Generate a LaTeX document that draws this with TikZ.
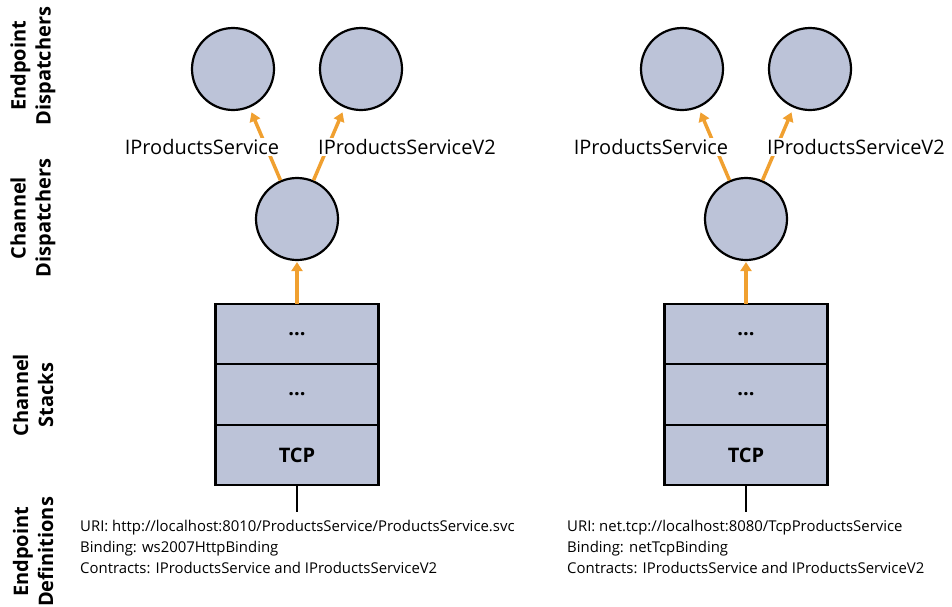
\documentclass[tikz,border=0pt]{standalone}
\usepackage{fontspec}
\setmainfont{Open Sans}
\usepackage{tikz}
\usetikzlibrary{arrows.meta, positioning}
\definecolor{dispblue}{HTML}{BCC3D8}
\definecolor{wcforange}{HTML}{F0A030}

\begin{document}
\begin{tikzpicture}[x=1pt, y=-1pt,
    disp/.style={circle, draw, line width=2.2pt, fill=dispblue, minimum size=82pt, inner sep=0pt},
    layer/.style={draw, line width=2.2pt, fill=dispblue, minimum width=163pt, minimum height=60.5pt,
                  inner sep=0pt, outer sep=0pt, font=\fontsize{20}{24}\selectfont\bfseries},
    flow/.style={-{Triangle[length=9pt, width=11pt]}, line width=3.5pt, wcforange},
    contract/.style={fill=white, inner sep=1pt, font=\fontsize{20}{24}\selectfont},
    tier/.style={rotate=90, align=center, font=\fontsize{20}{25}\selectfont\bfseries},
    epdef/.style={anchor=north west, align=left, inner sep=0pt, font=\fontsize{14.9}{21}\selectfont},
]
    \useasboundingbox (0,0) rectangle (952,606);

    % tiers
    \node[tier] (tEpDisp) at (33,66) {Endpoint\\Dispatchers};
    \node[tier] (tChDisp) at (33,218) {Channel\\Dispatchers};
    \node[tier] (tStacks) at (33,395) {Channel\\Stacks};
    \node[tier] (tEpDef) at (33,552) {Endpoint\\Definitions};

    % http endpoint
    \node[disp] (epL1) at (233,69) {};
    \node[disp] (epL2) at (361,69) {};
    \node[disp] (cdL) at (297,219) {};
    \node[layer] (stkL1) at (297,334) {...};
    \node[layer, below=0pt of stkL1] (stkL2) {...};
    \node[layer, below=0pt of stkL2] (stkL3) {TCP};
    \coordinate (defL) at (297,512);
    \draw[line width=2pt] (stkL3) -- (defL);
    \draw[flow, shorten >=1pt] (stkL1) -- (cdL);
    \draw[flow, shorten >=5pt] (cdL) -- (epL1);
    \draw[flow, shorten >=5pt] (cdL) -- (epL2);
    \node[contract] (ctrL1) at (202,147) {IProductsService};
    \node[contract] (ctrL2) at (407,147) {IProductsServiceV2};
    \node[epdef] (defTxtL) at (80,520) {
        URI: http://localhost:8010/ProductsService/ProductsService.svc \\
        Binding: ws2007HttpBinding \\
        Contracts: IProductsService and IProductsServiceV2
    };

    % tcp endpoint
    \node[disp] (epR1) at (682,69) {};
    \node[disp] (epR2) at (810,69) {};
    \node[disp] (cdR) at (746,219) {};
    \node[layer] (stkR1) at (746,334) {...};
    \node[layer, below=0pt of stkR1] (stkR2) {...};
    \node[layer, below=0pt of stkR2] (stkR3) {TCP};
    \coordinate (defR) at (746,512);
    \draw[line width=2pt] (stkR3) -- (defR);
    \draw[flow, shorten >=1pt] (stkR1) -- (cdR);
    \draw[flow, shorten >=5pt] (cdR) -- (epR1);
    \draw[flow, shorten >=5pt] (cdR) -- (epR2);
    \node[contract] (ctrR1) at (651,147) {IProductsService};
    \node[contract] (ctrR2) at (856,147) {IProductsServiceV2};
    \node[epdef] (defTxtR) at (567,520) {
        URI: net.tcp://localhost:8080/TcpProductsService \\
        Binding: netTcpBinding \\
        Contracts: IProductsService and IProductsServiceV2
    };
\end{tikzpicture}
\end{document}
